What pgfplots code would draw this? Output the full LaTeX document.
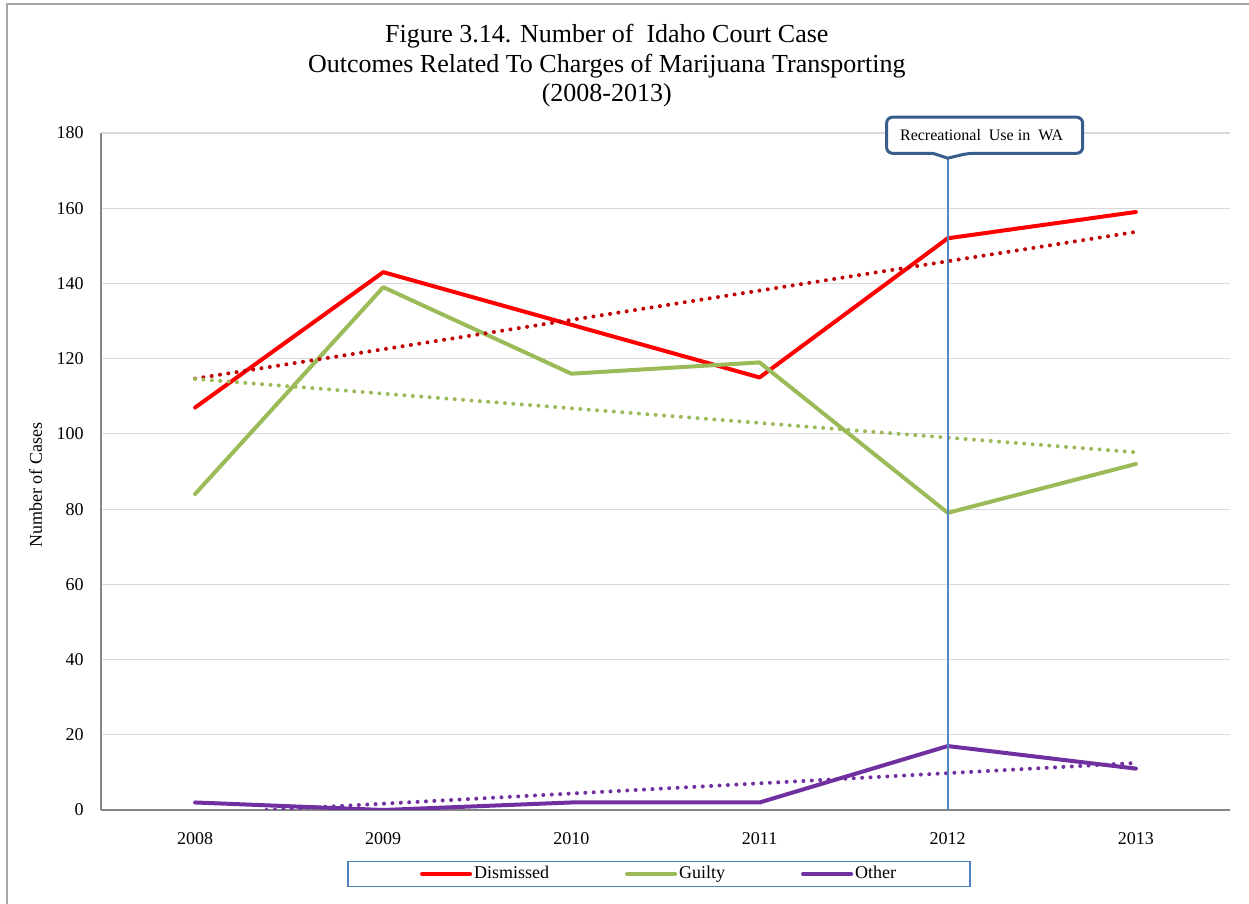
\documentclass[border=0pt]{standalone}
\usepackage{fontspec}
\setmainfont{Liberation Serif}
\usepackage{pgfplots}
\pgfplotsset{compat=1.18}

\definecolor{dism}{RGB}{255,0,0}
\definecolor{dismtrend}{RGB}{192,0,0}
\definecolor{guilty}{RGB}{155,187,89}
\definecolor{other}{RGB}{112,48,160}
\definecolor{gridgray}{RGB}{217,217,217}
\definecolor{axisgray}{RGB}{134,134,134}
\definecolor{framegray}{RGB}{166,166,166}
\definecolor{legblue}{RGB}{79,129,189}
\definecolor{vblue}{RGB}{84,134,196}
\definecolor{callblue}{RGB}{56,93,138}

\begin{document}
\begin{tikzpicture}
\useasboundingbox (-50.5pt,-47pt) rectangle (574pt,405pt);
\draw[draw=framegray, line width=0.8pt] (-47pt,403pt) rectangle (620pt,-90pt);
\begin{axis}[
  at={(0pt,0pt)}, anchor=south west,
  scale only axis, width=564.5pt, height=338.5pt,
  xmin=-0.5, xmax=5.5, ymin=0, ymax=180,
  xtick={0,1,2,3,4,5},
  xticklabels={2008,2009,2010,2011,2012,2013},
  ytick={0,20,...,180},
  ymajorgrids, grid style={draw=gridgray, line width=0.6pt},
  axis lines=left, axis line style={draw=axisgray, line width=0.6pt, -},
  major tick length=0pt,
  tick label style={font=\fontsize{9}{10}\selectfont},
  /pgf/number format/assume math mode=true,
  yticklabel style={inner sep=0pt, xshift=-8.5pt},
  xticklabel style={inner sep=0pt, yshift=-11pt},
  ylabel={Number of Cases},
  ylabel style={font=\fontsize{9}{10}\selectfont, at={(axis description cs:-0.058,0.48)}, anchor=center},
  clip mode=individual,
  legend columns=3,
  legend style={at={(0.4943,0)}, anchor=center, yshift=-32pt,
    draw=legblue, line width=0.6pt, font=\fontsize{9}{10}\selectfont,
    inner xsep=36pt, inner ysep=1.5pt,
    /tikz/every even column/.append style={column sep=37pt},
    nodes={inner xsep=1pt, inner ysep=1pt}},
  legend cell align=left,
  legend image code/.code={\draw[#1] (0pt,0pt) -- (24pt,0pt);},
]
\addplot[dism, line width=2pt, line join=round, line cap=round] coordinates {(0,107)(1,143)(2,129)(3,115)(4,152)(5,159)};
\addlegendentry{Dismissed}
\addplot[guilty, line width=2pt, line join=round, line cap=round] coordinates {(0,84)(1,139)(2,116)(3,119)(4,79)(5,92)};
\addlegendentry{Guilty}
\addplot[other, line width=2pt, line join=round, line cap=round] coordinates {(0,2)(1,0)(2,2)(3,2)(4,17)(5,11)};
\addlegendentry{Other}
\addplot[dismtrend, line width=2pt, line cap=round, dash pattern=on 0pt off 4.2pt, forget plot] coordinates {(0,114.7)(5,153.7)};
\addplot[guilty, line width=2pt, line cap=round, dash pattern=on 0pt off 4.2pt, forget plot] coordinates {(0,114.6)(5,95.1)};
\addplot[other, line width=2pt, line cap=round, dash pattern=on 0pt off 4.2pt, forget plot] coordinates {(0.38,0)(5,12.5)};

\draw[vblue, line width=0.8pt] (axis cs:4,0) -- (axis cs:4,173.3);
\draw[draw=callblue, line width=1.5pt, fill=white, rounded corners=3pt]
  (axis cs:3.675,184.2) -- (axis cs:4.717,184.2) -- (axis cs:4.717,174.6) -- (axis cs:4.107,174.6)
  [sharp corners] -- (axis cs:4.0,173.3) -- (axis cs:3.921,174.6) [rounded corners=3pt] -- (axis cs:3.675,174.6) -- cycle;
\node[font=\fontsize{8}{9}\selectfont, inner sep=0pt] at (axis cs:4.18,179.4) {Recreational\ \ Use in\ \ WA};

\node[align=center, font=\fontsize{13}{14.75}\selectfont, yshift=33.5pt] at (rel axis cs:0.448,1)
  {Figure 3.14. Number of\ \ Idaho Court Case\\Outcomes Related To Charges of Marijuana Transporting\\(2008-2013)};
\end{axis}
\end{tikzpicture}
\end{document}
